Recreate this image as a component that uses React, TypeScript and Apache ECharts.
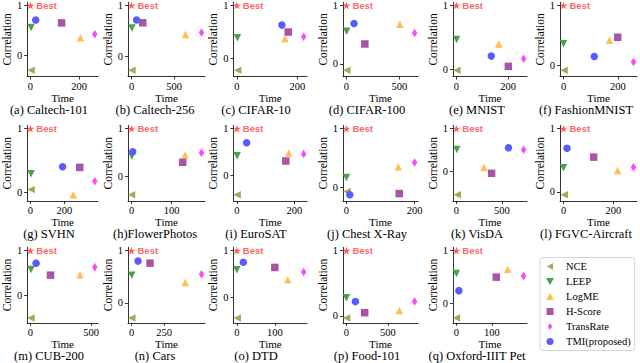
import React, { useEffect, useRef } from 'react';
import * as echarts from 'echarts';

// ---------- data ----------
const captions = ['(a) Caltech-101', '(b) Caltech-256', '(c) CIFAR-10', '(d) CIFAR-100', '(e) MNIST', '(f) FashionMNIST',
  '(g) SVHN', '(h)FlowerPhotos', '(i) EuroSAT', '(j) Chest X-Ray', '(k) VisDA', '(l) FGVC-Aircraft',
  '(m) CUB-200', '(n) Cars', '(o) DTD', '(p) Food-101', '(q) Oxford-IIIT Pet'];

const xTicks = [[0, 200], [0, 500], [0, 200], [0, 500], [0, 200], [0, 200],
  [0, 200], [0, 100], [0, 200], [0, 200], [0, 500], [0, 200],
  [0, 500], [0, 250], [0, 100], [0, 500], [0, 100]];
const yTicks = [0, 1];

const bestPoint = [0, 1];

const nceTime = [3, 5, 3, 3, 2, 2, 4, 0, 1, 2, 10, 3, 5, 2, 1, 2, 0];
const nceCorr = [-0.30, -0.27, -0.22, -0.11, -0.01, -0.08, 0.04, -0.375, -0.41, -0.075, -0.56, -0.045, -0.51, -0.29, -0.445, -0.03, -0.27];
const leepTime = [3, 5, 2, 2, 1, 0, 4, 1, 1, 0, 5, 0, 5, 2, 0, 0, 0];
const leepCorr = [0.56, 0.56, 0.39, 0.56, 0.47, 0.36, 0.29, 0.43, 0.42, 0.165, 0.51, 0.38, 0.58, 0.53, 0.59, 0.28, 0.57];
const logmeTime = [205, 632, 159, 505, 164, 169, 252, 134, 180, 152, 304, 217, 409, 413, 134, 636, 144];
const logmeCorr = [0.35, 0.43, 0.38, 0.68, 0.40, 0.42, -0.04, 0.45, 0.48, 0.35, 0.08, 0.34, 0.46, 0.39, 0.375, 0.085, 0.65];
const hscoreTime = [128, 132, 170, 174, 201, 199, 290, 128, 170, 155, 387, 121, 166, 142, 100, 220, 112];
const hscoreCorr = [0.65, 0.66, 0.50, 0.34, 0.05, 0.47, 0.39, 0.30, 0.31, -0.11, -0.055, 0.55, 0.45, 0.76, 0.64, 0.05, 0.50];
const transrateTime = [264, 820, 221, 644, 260, 257, 378, 175, 232, 200, 739, 281, 531, 537, 176, 820, 189];
const transrateCorr = [0.42, 0.47, 0.41, 0.53, 0.17, 0.055, 0.17, 0.50, 0.46, 0.42, 0.50, 0.39, 0.63, 0.55, 0.54, 0.22, 0.52];
const tmiTime = [22, 60, 149, 72, 135, 113, 189, 3, 34, 10, 572, 14, 47, 50, 17, 108, 7];
const tmiCorr = [0.71, 0.715, 0.63, 0.69, 0.21, 0.15, 0.40, 0.52, 0.70, -0.13, 0.55, 0.69, 0.72, 0.80, 0.75, 0.22, 0.245];

// ---------- layout / style ----------
const colLeft = [22.7, 128, 233.5, 343, 453, 560];
const colRight = [98, 205, 307, 418, 527, 637];
const rowTop = [1.4, 125.4, 247.3];
const rowBottom = [73.4, 198, 321.3];
const rowSpine = [76.5, 201, 322.8];
const capX = [49, 155, 256, 367, 477, 586];
const capY = [109.5, 234, 356];

const SERIF = 'Liberation Serif';
const SANS = 'Liberation Sans';
const STAR = 'path://M50,0 L61.2,34.5 L97.6,34.5 L68.2,55.9 L79.4,90.5 L50,69.1 L20.6,90.5 L31.8,55.9 L2.4,34.5 L38.8,34.5 Z';

const ICON_LEFT = 'path://M0,50 L87,0 L87,100 Z';
const ICON_DOWN = 'path://M0,0 L100,0 L50,87 Z';
const ICON_UP = 'path://M50,0 L100,87 L0,87 Z';
const ICON_SQUARE = 'path://M0,0 L100,0 L100,100 L0,100 Z';
const ICON_DIAMOND = 'path://M32,0 L64,50 L32,100 L0,50 Z';
const ICON_CIRCLE = 'path://M50,0 A50,50 0 1,1 50,100 A50,50 0 1,1 50,0 Z';

const methods = [
  { name: 'NCE', t: nceTime, c: nceCorr, symbol: 'triangle', rotate: 90, size: 7.5, color: '#aaa65c', icon: ICON_LEFT },
  { name: 'LEEP', t: leepTime, c: leepCorr, symbol: 'triangle', rotate: 180, size: 7.5, color: '#4aa34a', icon: ICON_DOWN },
  { name: 'LogME', t: logmeTime, c: logmeCorr, symbol: 'triangle', rotate: 0, size: 7.5, color: '#ffbf55', icon: ICON_UP },
  { name: 'H-Score', t: hscoreTime, c: hscoreCorr, symbol: 'rect', rotate: 0, size: 7.5, color: '#a855a8', icon: ICON_SQUARE },
  { name: 'TransRate', t: transrateTime, c: transrateCorr, symbol: 'diamond', rotate: 0, size: [5.5, 8.5], color: '#f94cf9', icon: ICON_DIAMOND },
  { name: 'TMI(proposed)', t: tmiTime, c: tmiCorr, symbol: 'circle', rotate: 0, size: 7.5, color: '#5a5aff', icon: ICON_CIRCLE },
];

function limits(vals: number[]) {
  const mn = Math.min(...vals);
  const mx = Math.max(...vals);
  const r = mx - mn;
  return [mn - 0.05 * r, mx + 0.05 * r];
}

function buildOption() {
  const grid: any[] = [];
  const xAxis: any[] = [];
  const yAxis: any[] = [];
  const series: any[] = [];
  const graphic: any[] = [];

  for (let i = 0; i < captions.length; i++) {
    const col = i % 6;
    const row = Math.floor(i / 6);
    const xs = [bestPoint[0], ...methods.map((m) => m.t[i])];
    const ys = [bestPoint[1], ...methods.map((m) => m.c[i])];
    const [xmin, xmax] = limits(xs);
    let [ymin, ymax] = limits(ys);
    const pxPerUnit = (rowBottom[row] - rowTop[row]) / (ymax - ymin);
    ymin = ymin - (rowSpine[row] - rowBottom[row]) / pxPerUnit;

    grid.push({
      left: colLeft[col],
      width: colRight[col] - colLeft[col],
      top: rowTop[row],
      height: rowSpine[row] - rowTop[row],
      containLabel: false,
    });
    xAxis.push({
      type: 'value', gridIndex: i, min: xmin, max: xmax,
      splitLine: { show: false },
      axisLine: { show: true, onZero: false, lineStyle: { color: '#000', width: 0.8 } },
      axisTick: { show: true, length: 3, customValues: xTicks[i], lineStyle: { color: '#000', width: 0.8 } },
      axisLabel: { customValues: xTicks[i], margin: 4, fontSize: 10.5, fontFamily: SERIF, color: '#000' },
      name: 'Time', nameLocation: 'middle', nameGap: 11.5,
      nameTextStyle: { fontFamily: SERIF, fontSize: 11, color: '#000', lineHeight: 11 },
    });
    yAxis.push({
      type: 'value', gridIndex: i, min: ymin, max: ymax,
      splitLine: { show: false },
      axisLine: { show: true, onZero: false, lineStyle: { color: '#000', width: 0.8 } },
      axisTick: { show: true, length: 3, customValues: yTicks, lineStyle: { color: '#000', width: 0.8 } },
      axisLabel: { customValues: yTicks, margin: 5, fontSize: 10.5, fontFamily: SERIF, color: '#000' },
      name: 'Correlation', nameLocation: 'middle', nameGap: 12,
      nameTextStyle: { fontFamily: SERIF, fontSize: 11.5, color: '#000' },
    });
    for (const m of methods) {
      series.push({
        type: 'scatter', name: m.name, xAxisIndex: i, yAxisIndex: i,
        data: [[m.t[i], m.c[i]]],
        symbol: m.symbol, symbolSize: m.size, symbolRotate: m.rotate,
        itemStyle: { color: m.color, opacity: 1 },
        emphasis: { disabled: true },
      });
    }
    series.push({
      type: 'scatter', name: 'Best', xAxisIndex: i, yAxisIndex: i,
      data: [bestPoint],
      symbol: STAR, symbolKeepAspect: true, symbolSize: 8,
      itemStyle: { color: '#ff3333' },
      label: {
        show: true, formatter: 'Best', position: 'right', distance: 2,
        color: '#ff3b3b', fontWeight: 'bold', fontSize: 9.5, fontFamily: SANS,
      },
      emphasis: { disabled: true },
      z: 3,
    });
    graphic.push({
      type: 'text', x: capX[col], y: capY[row],
      style: {
        text: captions[i], fill: '#000', fontSize: 12.5, fontFamily: SERIF, lineHeight: 12.5,
        textAlign: 'center', textVerticalAlign: 'middle', align: 'center', verticalAlign: 'middle',
      },
    });
  }

  return {
    animation: false,
    backgroundColor: '#fff',
    grid, xAxis, yAxis, series, graphic,
    legend: {
      data: methods.map((m) => ({ name: m.name, icon: m.icon })),
      orient: 'vertical',
      left: 540, top: 257.5,
      padding: [3, 4, 3, 6],
      itemWidth: 22, itemHeight: 7, itemGap: 3,
      symbolRotate: 0,
      symbolKeepAspect: true,
      borderColor: '#d6d6d6', borderWidth: 1, borderRadius: 3,
      textStyle: { fontFamily: SERIF, fontSize: 10.5, color: '#000', lineHeight: 12 },
      selectedMode: false,
    },
  };
}

export default function App() {
  const ref = useRef<HTMLDivElement>(null);
  useEffect(() => {
    if (!ref.current) return;
    const chart = echarts.init(ref.current, undefined, { renderer: 'svg' });
    chart.setOption(buildOption() as any);
    return () => chart.dispose();
  }, []);
  return <div ref={ref} style={{ position: 'absolute', left: 0, top: 0, width: 640, height: 363 }} />;
}
